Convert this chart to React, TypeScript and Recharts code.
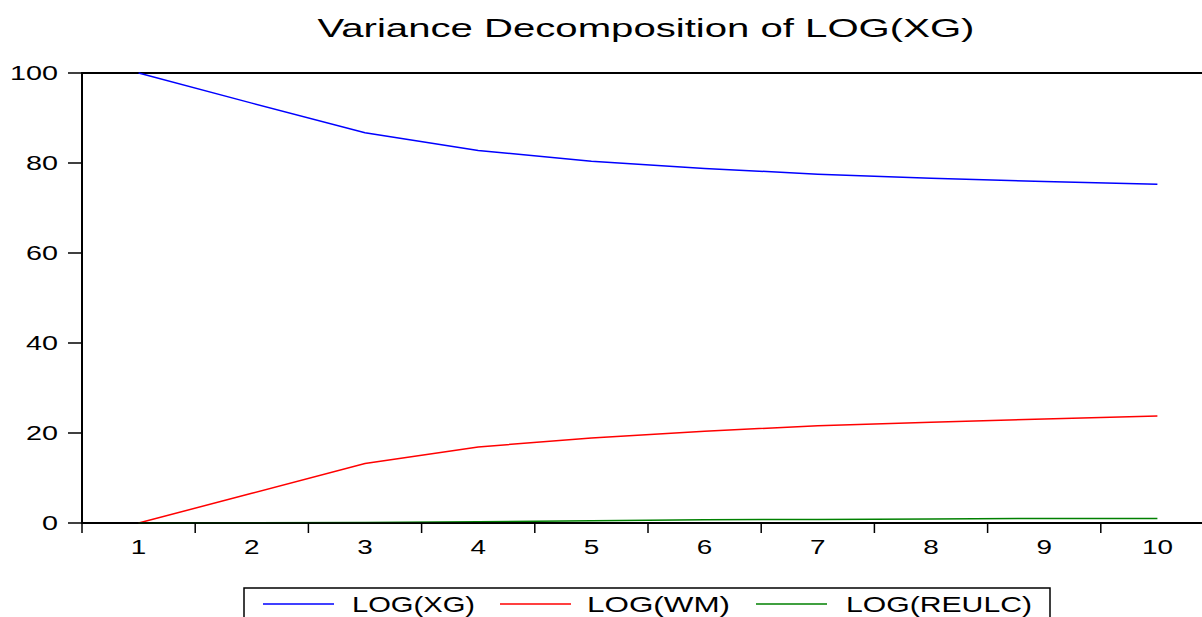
import { Line, LineChart, ReferenceArea, XAxis, YAxis } from "recharts";

const periods = [1, 2, 3, 4, 5, 6, 7, 8, 9, 10];
const logXG = [100, 93.3, 86.7, 82.8, 80.4, 78.8, 77.5, 76.6, 75.9, 75.3];
const logWM = [0, 6.6, 13.2, 16.9, 18.9, 20.4, 21.6, 22.4, 23.1, 23.8];
const logREULC = [0, 0.05, 0.1, 0.3, 0.5, 0.7, 0.8, 0.9, 1.0, 1.0];
const yTicks = [0, 20, 40, 60, 80, 100];
const boundaryTicks = [0.5, 1.5, 2.5, 3.5, 4.5, 5.5, 6.5, 7.5, 8.5, 9.5, 10.5];

const series = [
  { key: "xg", name: "LOG(XG)", color: "#0000ff" },
  { key: "wm", name: "LOG(WM)", color: "#ff0000" },
  { key: "reulc", name: "LOG(REULC)", color: "#008000" },
];

const data = periods.map((p, i) => ({ period: p, xg: logXG[i], wm: logWM[i], reulc: logREULC[i] }));

const FONT = "'Liberation Sans', Arial, sans-serif";
const PLOT_W = 1132;
const HALF_STEP = PLOT_W / periods.length / 2;

// labels sit between the boundary tick marks
function XTick({ x, y, payload }: any) {
  const v = payload.value + 0.5;
  if (v > periods[periods.length - 1]) return null;
  const label = String(v);
  return (
    <text
      x={x + HALF_STEP}
      y={y}
      dy="0.71em"
      textAnchor="middle"
      fontFamily={FONT}
      fontSize={20.5}
      fill="#000"
      textLength={label.length * 15.5}
      lengthAdjust="spacingAndGlyphs"
    >
      {label}
    </text>
  );
}

function YTick({ x, y, payload }: any) {
  const label = String(payload.value);
  return (
    <text
      x={x}
      y={y}
      dy="0.355em"
      textAnchor="end"
      fontFamily={FONT}
      fontSize={20.5}
      fill="#000"
      textLength={label.length * 16}
      lengthAdjust="spacingAndGlyphs"
    >
      {label}
    </text>
  );
}

const legendPos = [
  { lineX: 263, textX: 352, width: 123 },
  { lineX: 500, textX: 587, width: 143 },
  { lineX: 756, textX: 846, width: 186 },
];

export default function App() {
  return (
    <div style={{ position: "absolute", left: 0, top: 0, width: 1202, height: 617, overflow: "hidden", background: "#fff" }}>
      <LineChart width={1240} height={617} data={data} margin={{ top: 73, right: 26, left: 0, bottom: 64 }}>
        <XAxis
          dataKey="period"
          type="number"
          domain={[0.5, 10.5]}
          ticks={boundaryTicks}
          interval={0}
          height={30}
          tickSize={10}
          tickMargin={6}
          tick={<XTick />}
          axisLine={{ stroke: "#000", strokeWidth: 1.5 }}
          tickLine={{ stroke: "#000", strokeWidth: 1.5 }}
        />
        <YAxis
          domain={[0, 100]}
          ticks={yTicks}
          width={82}
          tickSize={14}
          tickMargin={10}
          tick={<YTick />}
          axisLine={{ stroke: "#000", strokeWidth: 1.5 }}
          tickLine={{ stroke: "#000", strokeWidth: 1.5 }}
        />
        <ReferenceArea x1={0.5} x2={10.5} y1={0} y2={100} fill="none" stroke="#000" strokeWidth={2} />
        {series.map((s) => (
          <Line
            key={s.key}
            dataKey={s.key}
            name={s.name}
            stroke={s.color}
            strokeWidth={1.5}
            dot={false}
            type="linear"
            isAnimationActive={false}
          />
        ))}
      </LineChart>
      <svg width={1202} height={617} style={{ position: "absolute", left: 0, top: 0, pointerEvents: "none" }}>
        <text
          x={646}
          y={37}
          textAnchor="middle"
          fontFamily={FONT}
          fontSize={26}
          fill="#000"
          textLength={657}
          lengthAdjust="spacingAndGlyphs"
        >
          Variance Decomposition of LOG(XG)
        </text>
        <rect x={244} y={588} width={806} height={40} fill="#fff" stroke="#000" strokeWidth={1.5} />
        {series.map((s, i) => (
          <g key={s.key}>
            <line x1={legendPos[i].lineX} x2={legendPos[i].lineX + 71} y1={604} y2={604} stroke={s.color} strokeWidth={1.5} />
            <text
              x={legendPos[i].textX}
              y={612}
              fontFamily={FONT}
              fontSize={22.5}
              fill="#000"
              textLength={legendPos[i].width}
              lengthAdjust="spacingAndGlyphs"
            >
              {s.name}
            </text>
          </g>
        ))}
      </svg>
    </div>
  );
}
